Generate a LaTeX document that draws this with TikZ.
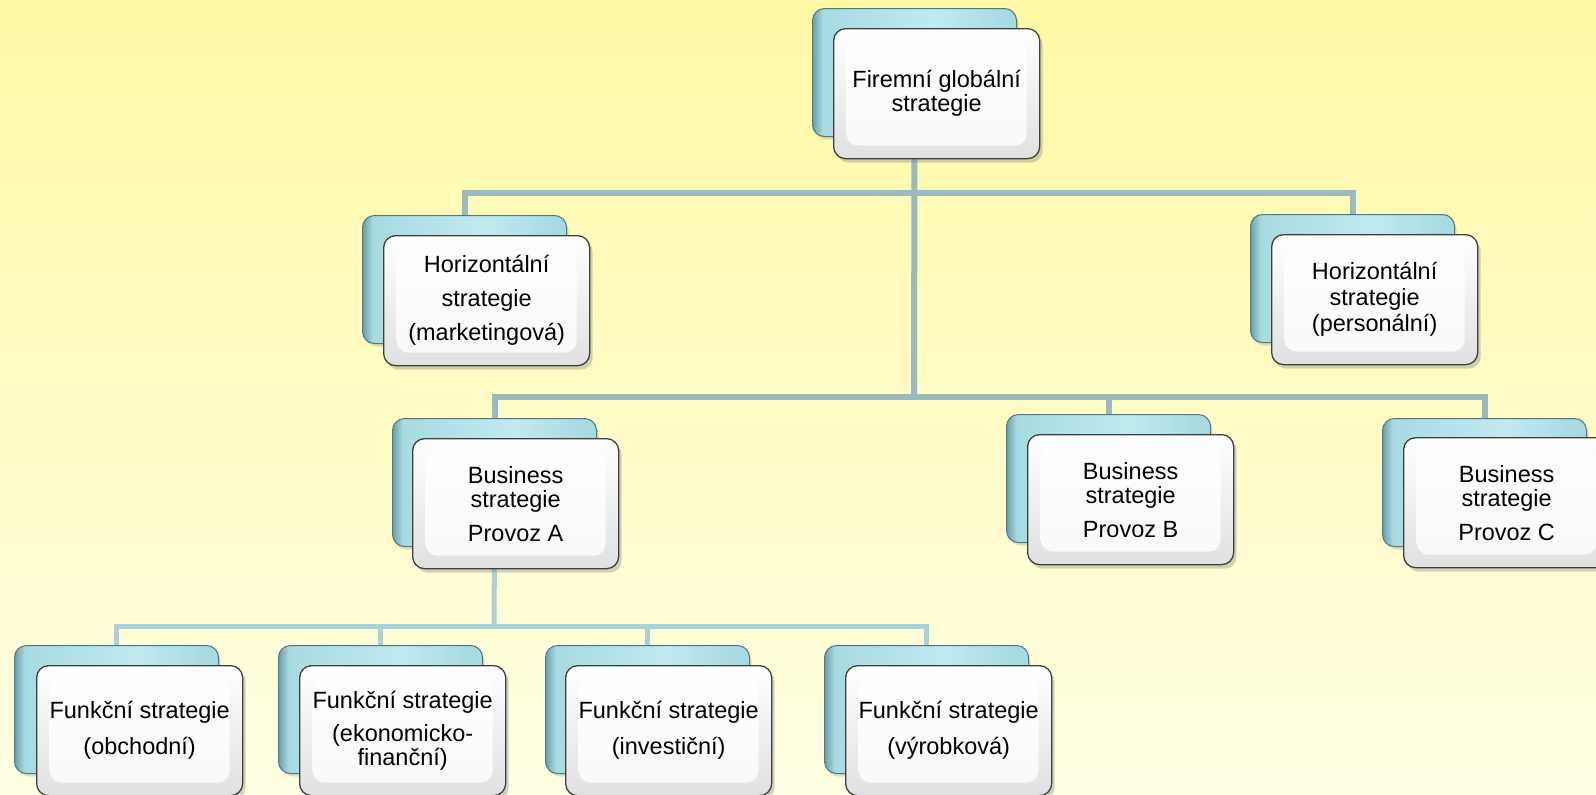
\documentclass[tikz,border=0pt]{standalone}
\usepackage{fontspec}
\setmainfont{Liberation Sans}
\usetikzlibrary{shadows,calc}
\definecolor{bgtop}{RGB}{255,248,165}
\definecolor{bgbot}{RGB}{255,255,228}
\definecolor{connA}{RGB}{155,186,192}
\definecolor{connB}{RGB}{170,210,216}
\definecolor{tealdark}{RGB}{105,160,172}
\definecolor{teallight}{RGB}{192,234,240}
\definecolor{tealmid}{RGB}{168,218,226}
\definecolor{tealedge}{RGB}{80,120,128}
\definecolor{edgegray}{RGB}{60,64,66}
\pgfdeclarehorizontalshading{tealshade}{100bp}{color(0bp)=(tealdark); color(25bp)=(tealdark); color(27.5bp)=(tealmid); color(55bp)=(teallight); color(72bp)=(tealmid); color(100bp)=(tealmid)}
\pgfdeclarelayer{bglayer}
\pgfdeclarelayer{connlayer}
\pgfsetlayers{bglayer,connlayer,main}
\begin{document}
\begin{tikzpicture}[x=1pt,y=-1pt,
 backbox/.style={anchor=north west, minimum width=204pt, minimum height=128pt, inner sep=0pt,
   rounded corners=12pt, draw=tealedge, line width=1pt, shading=tealshade,
   drop shadow={shadow xshift=2pt, shadow yshift=-3pt, opacity=0.25}},
 frontbox/.style={anchor=north west, minimum width=206pt, minimum height=130pt, inner sep=0pt,
   rounded corners=12pt, draw=edgegray, line width=1.3pt,
   top color=white, bottom color=gray!24,
   drop shadow={shadow xshift=3pt, shadow yshift=-4pt, opacity=0.35},
   path picture={\shade[top color=white, bottom color=gray!5]
     ([shift={(13pt,-13pt)}]path picture bounding box.north west) rectangle
     ([shift={(-13pt,13pt)}]path picture bounding box.south east);},
   align=center, font=\fontsize{23.5}{24}\selectfont},
 connTop/.style={draw=connA, line width=6pt},
 connLow/.style={draw=connB, line width=5pt}]
\useasboundingbox (0,0) rectangle (1596,795);
\begin{pgfonlayer}{bglayer}
\shade[top color=bgtop, bottom color=bgbot] (0,0) rectangle (1596,795);
\end{pgfonlayer}

% back boxes
\node[backbox] (topB) at (812,8) {};
\node[backbox] (mktB) at (362,215) {};
\node[backbox] (persB) at (1250,214) {};
\node[backbox] (busAB) at (392,418) {};
\node[backbox] (busBB) at (1006,414) {};
\node[backbox] (busCB) at (1382,418) {};
\node[backbox] (f1B) at (14,645) {};
\node[backbox] (f2B) at (278,645) {};
\node[backbox] (f3B) at (545,645) {};
\node[backbox] (f4B) at (824,645) {};

% front boxes
\node[frontbox] (topF) at (833,28) {Firemní globální\\strategie};
\node[frontbox] (mktF) at (383,235) {Horizontální\\[10pt]strategie\\[10pt](marketingová)};
\node[frontbox] (persF) at (1271,234) {Horizontální\\[2pt]strategie\\[2pt](personální)};
\node[frontbox] (busAF) at (412,438) {Business\\strategie\\[10pt]Provoz A};
\node[frontbox] (busBF) at (1027,434) {Business\\strategie\\[10pt]Provoz B};
\node[frontbox] (busCF) at (1403,437) {Business\\strategie\\[10pt]Provoz C};
\node[frontbox] (f1F) at (36,665) {Funkční strategie\\[12pt](obchodní)};
\node[frontbox] (f2F) at (299,665) {Funkční strategie\\[9pt](ekonomicko-\\finanční)};
\node[frontbox] (f3F) at (565,665) {Funkční strategie\\[12pt](investiční)};
\node[frontbox] (f4F) at (845,665) {Funkční strategie\\[12pt](výrobková)};

% connectors behind the boxes
\coordinate (j1) at (914,193);
\coordinate (j2) at (914,397);
\coordinate (j3) at (494,626);
\begin{pgfonlayer}{connlayer}
\draw[connTop] (topB.south) -- (j2);
\draw[connTop] (j1) -| (mktB.north);
\draw[connTop] (j1) -| (persB.north);
\draw[connTop] (j2) -| (busAB.north);
\draw[connTop] (j2) -| (busBB.north);
\draw[connTop] (j2) -| (busCB.north);
\draw[connLow] (busAB.south) -- (j3);
\draw[connLow] (j3) -| (f1B.north);
\draw[connLow] (j3) -| (f2B.north);
\draw[connLow] (j3) -| (f3B.north);
\draw[connLow] (j3) -| (f4B.north);
\end{pgfonlayer}
\end{tikzpicture}
\end{document}
